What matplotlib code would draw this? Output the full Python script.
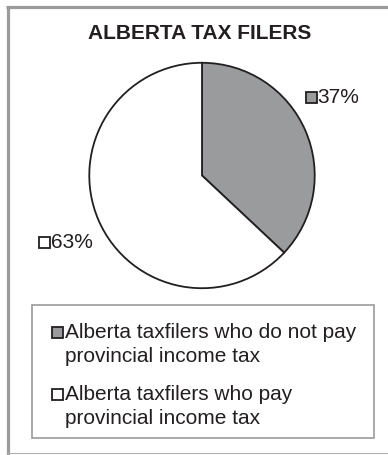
import matplotlib
matplotlib.use("Agg")
import matplotlib.pyplot as plt
from matplotlib.patches import Rectangle

plt.rcParams['font.family'] = ['Liberation Sans', 'DejaVu Sans']

title = "ALBERTA TAX FILERS"
categories = [["Alberta taxfilers who do not pay", "provincial income tax"],
              ["Alberta taxfilers who pay", "provincial income tax"]]
shares = [37, 63]
colors = ["#9a9b9d", "#ffffff"]

W, H = 388, 455
fig = plt.figure(figsize=(W / 100, H / 100), dpi=100)
fig.patch.set_facecolor("white")

# Overlay axes in pixel coordinates (origin top-left)
ov = fig.add_axes([0, 0, 1, 1])
ov.set_xlim(0, W)
ov.set_ylim(H, 0)
ov.axis("off")

frame_col = "#9b9b9b"
# outer frame (left and top heavy, bottom light)
ov.plot([7.5, 7.5], [5.5, H], color=frame_col, lw=2.3, solid_capstyle="butt")
ov.plot([6, W], [7, 7], color=frame_col, lw=2.3, solid_capstyle="butt")
ov.plot([6, W], [453, 453], color="#b0b0b0", lw=0.8, solid_capstyle="butt")

ov.text(200, 39, title, ha="center", va="baseline", fontsize=15,
        fontweight="bold", color="#231f20")

# Pie
cx, cy, r = 202, 175.5, 113.5
pax = fig.add_axes([(cx - r) / W, (H - cy - r) / H, 2 * r / W, 2 * r / H])
pax.pie(shares, colors=colors, startangle=90, counterclock=False, radius=1,
        wedgeprops=dict(edgecolor="#231f20", linewidth=1.3))
pax.set_xlim(-1.007, 1.007)
pax.set_ylim(-1.007, 1.007)
pax.set_aspect("auto")
pax.axis("off")

# Slice value labels with swatches
label_pos = [(306, 103), (39, 248)]
for (x, yb), v, c in zip(label_pos, shares, colors):
    ov.add_patch(Rectangle((x, yb - 11.5), 10.5, 11, facecolor=c,
                           edgecolor="#231f20", lw=1.3, zorder=3))
    ov.text(x + 11.5, yb, f"{v}%", ha="left", va="baseline", fontsize=15,
            color="#231f20")

# Legend box
ov.add_patch(Rectangle((32, 305), 342, 133, facecolor="none",
                       edgecolor=frame_col, lw=1.2))
leg_base = [338, 400]
line_gap = 23.5
for yb, lines, c in zip(leg_base, categories, colors):
    ov.add_patch(Rectangle((52, yb - 11.5), 10.5, 11, facecolor=c,
                           edgecolor="#231f20", lw=1.3, zorder=3))
    for i, ln in enumerate(lines):
        ov.text(65, yb + i * line_gap, ln, ha="left", va="baseline",
                fontsize=15, color="#231f20")

fig.savefig("out.png", dpi=100)
